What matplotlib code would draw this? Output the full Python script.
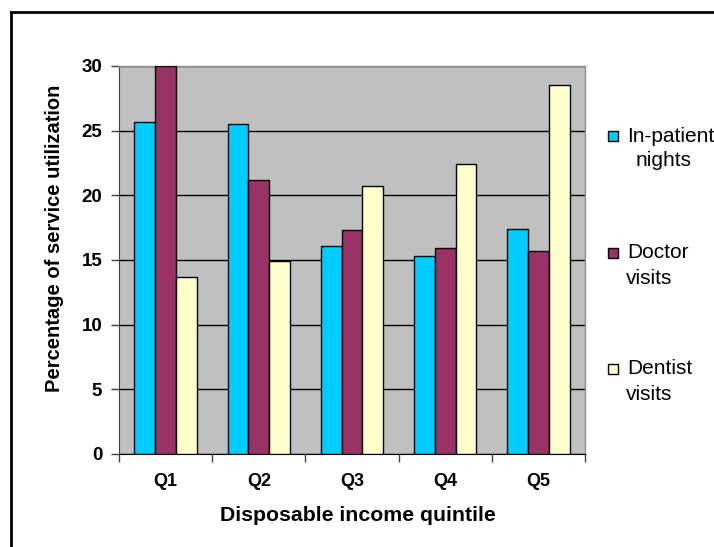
import matplotlib
matplotlib.use("Agg")
import matplotlib.pyplot as plt
from matplotlib.patches import Rectangle
from matplotlib.lines import Line2D
import numpy as np

plt.rcParams['font.family'] = ['Liberation Sans', 'DejaVu Sans']

quintiles = ["Q1", "Q2", "Q3", "Q4", "Q5"]
series_names = ["In-patient nights", "Doctor visits", "Dentist visits"]
legend_lines = [["In-patient", "nights"], ["Doctor", "visits"], ["Dentist", "visits"]]
inpatient = [25.7, 25.5, 16.1, 15.3, 17.4]
doctor = [30.0, 21.2, 17.3, 15.9, 15.7]
dentist = [13.7, 14.9, 20.7, 22.4, 28.5]
colors = ["#00CCFF", "#993366", "#FFFFCC"]
yticks = [0, 5, 10, 15, 20, 25, 30]

W, H = 714, 547
fig = plt.figure(figsize=(W / 100, H / 100), dpi=100)
fig.patch.set_facecolor("white")

ax = fig.add_axes([119 / W, 1 - 454 / H, (585 - 119) / W, (454 - 66) / H])
ax.set_facecolor("#C0C0C0")

x = np.arange(len(quintiles))
bw = 0.223
for i, (vals, c) in enumerate(zip([inpatient, doctor, dentist], colors)):
    ax.bar(x + (i - 1) * bw, vals, width=bw, color=c, edgecolor="black",
           linewidth=1.0, zorder=3, label=series_names[i])

ax.set_xlim(-0.5, len(quintiles) - 0.5)
ax.set_ylim(0, 30)
ax.set_yticks(yticks)
ax.set_yticklabels([str(v) for v in yticks], fontsize=13.5, fontweight="bold")
ax.yaxis.grid(True, color="black", linewidth=1.0, zorder=1)
ax.set_axisbelow(True)

# category ticks sit on the boundaries, labels sit at the centres
ax.set_xticks(np.arange(-0.5, len(quintiles)), minor=False)
ax.set_xticklabels([])
ax.set_xticks(x, minor=True)
ax.set_xticklabels(quintiles, minor=True, fontsize=13, fontweight="bold")
ax.tick_params(axis="x", which="minor", length=0, pad=14)
ax.tick_params(axis="x", which="major", length=6, width=1, color="#404040")
ax.tick_params(axis="y", length=6, width=1, color="#404040", pad=6)

for side in ("top", "right"):
    ax.spines[side].set_color("#909090")
    ax.spines[side].set_linewidth(1.0)
ax.spines["left"].set_color("#404040")
ax.spines["bottom"].set_color("black")

ax.set_xlabel("Disposable income quintile", fontsize=15.3, fontweight="bold")
ax.xaxis.set_label_coords((358 - 119) / 466, (454 - 506) / 388)
ax.set_ylabel("Percentage of service utilization", fontsize=14.5, fontweight="bold")
ax.yaxis.set_label_coords((64 - 119) / 466, (454 - 238) / 388)

# legend drawn beside the plot area
entry_y = [136, 253, 369]
for lines, c, yy in zip(legend_lines, colors, entry_y):
    fig.patches.append(Rectangle((607.5 / W, 1 - (yy + 5) / H), 10 / W, 10 / H,
                                 transform=fig.transFigure, facecolor=c,
                                 edgecolor="black", linewidth=1.0))
    fig.text(627 / W, 1 - yy / H, lines[0], fontsize=15, va="center", ha="left")
    if lines[0] == "In-patient":
        fig.text(664 / W, 1 - (yy + 25) / H, lines[1], fontsize=15, va="center", ha="center")
    else:
        fig.text(626 / W, 1 - (yy + 25) / H, lines[1], fontsize=15, va="center", ha="left")

# outer chart frame
fig.lines.append(Line2D([11.5 / W, 11.5 / W], [0, 1 - 11.5 / H], transform=fig.transFigure,
                        color="black", linewidth=2))
fig.lines.append(Line2D([11.5 / W, 1], [1 - 11.5 / H, 1 - 11.5 / H], transform=fig.transFigure,
                        color="black", linewidth=2))

fig.savefig("out.png", dpi=100)
